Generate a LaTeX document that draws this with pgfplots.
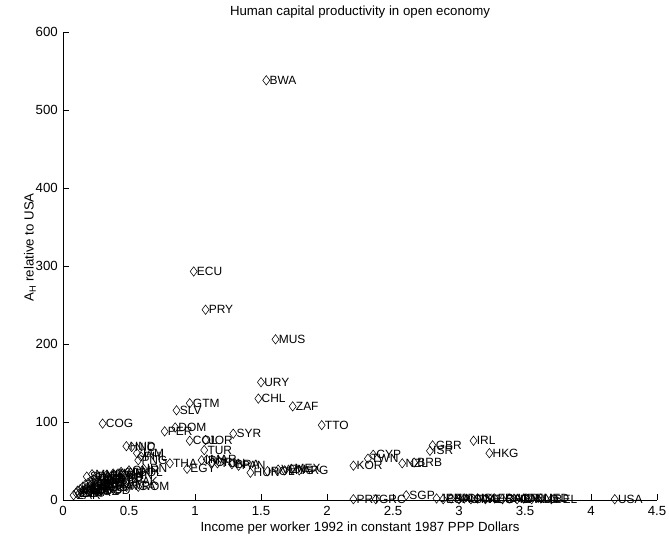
\documentclass[border=0pt]{standalone}
\usepackage{fontspec}
\setmainfont{Liberation Sans}
\usepackage{pgfplots}
\usepackage{pgfplotstable}
\pgfplotsset{compat=1.18}

% Income per worker (relative scale) vs. human capital productivity A_H
\pgfplotstableread{
x y name
1.54 538 BWA
0.99 293 ECU
1.08 244 PRY
1.61 206 MUS
1.50 151 URY
1.48 130 CHL
1.74 120 ZAF
1.96 96 TTO
0.96 124 GTM
0.86 115 SLV
0.30 98 COG
0.77 88 PER
0.85 93 DOM
0.96 76 COL
1.08 77 JOR
1.29 85 SYR
1.07 64 TUR
0.48 69 HND
0.52 68 NIC
0.56 60 JAM
0.57 51 PNG
0.59 56 PHL
0.81 47 THA
0.94 40 EGY
1.05 51 IRN
1.09 52 MAR
1.13 48 CRI
1.17 47 TUN
1.28 46 BRA
1.33 44 PAN
1.42 35 HUN
1.55 37 POL
1.63 39 VEN
1.68 38 MYS
1.73 40 MEX
1.79 38 ARG
2.20 44 KOR
2.31 53 TWN
2.35 58 CYP
2.57 47 NZL
2.66 48 BRB
2.78 63 ISR
2.80 70 GBR
3.11 76 IRL
3.23 60 HKG
2.20 1 PRT
2.37 1 GRC
2.60 6 SGP
2.83 2 JPN
2.88 1 ESP
2.94 2 FIN
3.00 1 AUT
3.04 2 DNK
3.09 1 SWE
3.14 2 ISL
3.20 1 AUS
3.27 2 FRA
3.33 1 CHE
3.38 2 NOR
3.44 1 CAN
3.49 2 DEU
3.55 1 NLD
3.62 2 NED
3.70 1 BEL
4.18 1 USA
0.08 6 ZAR
0.10 9 ETH
0.11 12 MLI
0.12 8 BDI
0.13 14 NER
0.14 10 UGA
0.15 17 MWI
0.16 12 TZA
0.17 20 TCD
0.18 15 BFA
0.18 30 SDN
0.19 22 RWA
0.20 11 MOZ
0.21 18 CAF
0.22 25 TGO
0.22 33 MMR
0.23 14 GNB
0.24 28 GMB
0.25 20 BEN
0.26 16 MDG
0.27 30 KEN
0.28 23 NPL
0.29 12 BGD
0.30 27 IND
0.31 18 GHA
0.33 32 SEN
0.34 22 HTI
0.36 26 ZMB
0.38 34 ZWE
0.40 29 LSO
0.42 19 MRT
0.44 36 CIV
0.46 31 CHN
0.48 17 NGA
0.50 38 CMR
0.52 24 PAK
0.55 35 BOL
0.57 17 ROM
0.61 40 IDN
}\datatable

\begin{document}
\begin{tikzpicture}
\begin{axis}[
  at={(0,0)}, anchor=south west,
  scale only axis,
  width=594bp, height=468bp,
  xmin=0, xmax=4.5, ymin=0, ymax=600,
  axis lines=left,
  axis line style={-, line width=0.6bp},
  tick align=inside,
  major tick length=6bp,
  tick style={line width=0.6bp, black},
  xtick={0,0.5,...,4.5},
  ytick={0,100,...,600},
  /pgf/number format/assume math mode=true,
  ticklabel style={font=\fontsize{13.3}{15}\selectfont},
  xticklabel style={anchor=base, inner sep=0pt, yshift=-15.5bp},
  yticklabel style={anchor=east, inner sep=0pt, xshift=-5bp},
  clip=false,
  title={Human capital productivity in open economy},
  title style={font=\fontsize{13.3}{15}\selectfont, at={(axis description cs:0.5,1)}, anchor=base, yshift=10.5bp},
  xlabel={Income per worker 1992 in constant 1987 PPP Dollars},
  every axis x label/.style={at={(axis description cs:0.5,0)}, anchor=base, yshift=-31bp,
    font=\fontsize{13.3}{15}\selectfont},
  ylabel={A\textsubscript{H} relative to USA},
  every axis y label/.style={at={(axis description cs:-0.0556,0.54)}, rotate=90, anchor=center,
    font=\fontsize{13.3}{15}\selectfont},
]
\addplot[only marks, mark=diamond, mark size=4.7bp,
  mark options={draw=black, fill=none, line width=0.55bp},
  nodes near coords, point meta=explicit symbolic,
  every node near coord/.style={anchor=west, inner sep=0pt, xshift=3bp,
    font=\fontsize{12}{14}\selectfont, text=black}]
  table[x=x, y=y, meta=name] {\datatable};
\end{axis}
\pgfresetboundingbox
\path[use as bounding box] (-63bp,-41bp) rectangle (606bp,500bp);
\end{tikzpicture}
\end{document}
